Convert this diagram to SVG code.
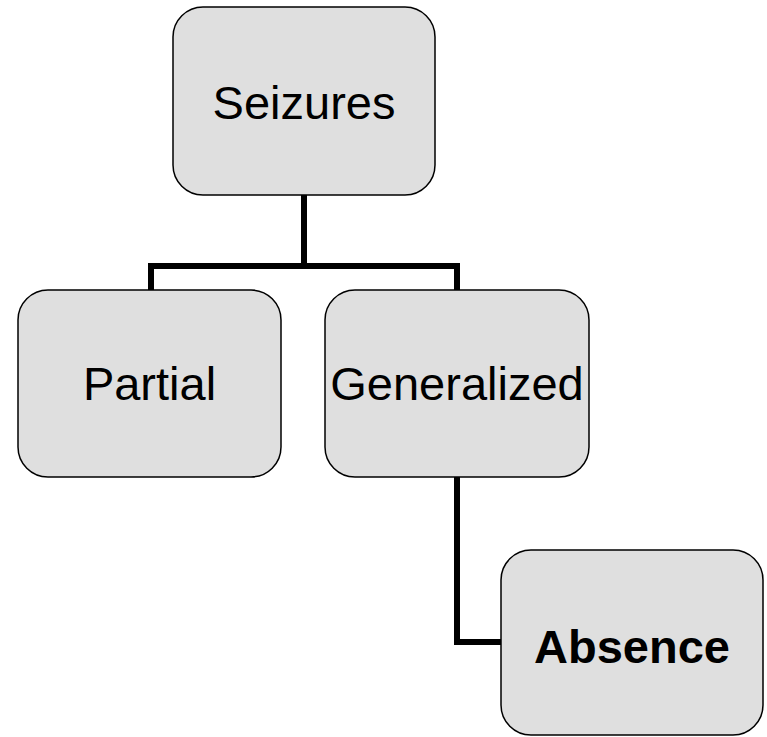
<svg xmlns="http://www.w3.org/2000/svg" width="767" height="737" viewBox="0 0 767 737">
  <style>
    .box { fill: #dfdfdf; stroke: #000; stroke-width: 1.5; }
    .label { font-family: "Liberation Sans", Arial, sans-serif; font-size: 47px; fill: #000; text-anchor: middle; }
    .bold { font-weight: bold; }
    .link { fill: none; stroke: #000; stroke-width: 6; stroke-linejoin: miter; stroke-linecap: butt; }
  </style>
  <rect width="767" height="737" fill="#fff"/>
  <g id="connectors">
    <path class="link" d="M304 195 V266 M151 290 V266 H457 V290"/>
    <path class="link" d="M457 477 V642 H501"/>
  </g>
  <g id="seizures">
    <rect class="box" x="173" y="7" width="262" height="188" rx="30"/>
    <text class="label" x="304" y="119">Seizures</text>
  </g>
  <g id="partial">
    <rect class="box" x="18" y="290" width="263" height="187" rx="30"/>
    <text class="label" x="149.5" y="400">Partial</text>
  </g>
  <g id="generalized">
    <rect class="box" x="325" y="290" width="264" height="187" rx="30"/>
    <text class="label" x="457" y="400">Generalized</text>
  </g>
  <g id="absence">
    <rect class="box" x="501" y="550" width="262" height="185" rx="30"/>
    <text class="label bold" x="632" y="663">Absence</text>
  </g>
</svg>
